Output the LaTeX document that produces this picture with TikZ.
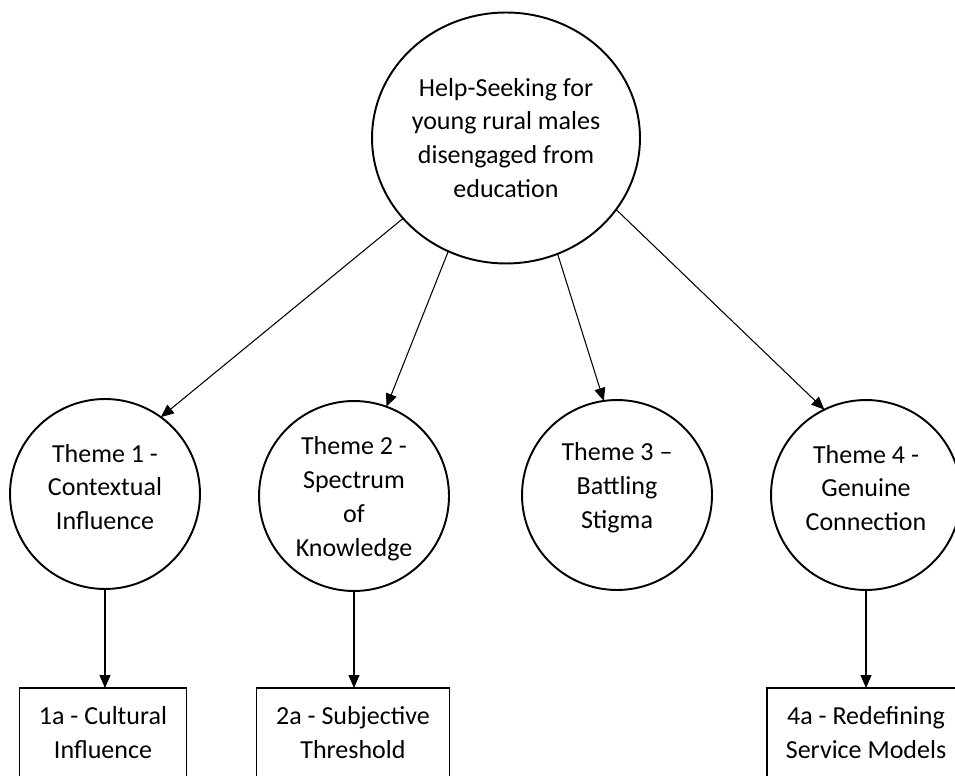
\documentclass[tikz,border=0pt]{standalone}
\usepackage{fontspec}
\setmainfont{Carlito}
\usepackage{tikz}
\usetikzlibrary{shapes.geometric,arrows.meta}

\begin{document}
\begin{tikzpicture}[x=0.02cm, y=-0.02cm,
  every node/.style={align=center, font=\fontsize{14.8}{19.3}\selectfont, outer sep=0pt},
  topic/.style={ellipse, draw, line width=1.1pt, minimum width=5.36cm, minimum height=5.02cm, inner sep=0pt},
  theme/.style={circle, draw, line width=1.1pt, minimum size=3.8cm, inner sep=0pt},
  lift/.style={yshift=0.14cm},
  drop/.style={yshift=-0.06cm},
  sub/.style={rectangle, draw, line width=1.1pt, minimum height=1.8cm},
  link/.style={-{Triangle[length=0.26cm, width=0.22cm]}, line width=0.6pt}]
\useasboundingbox (0,0) rectangle (955,776);

\node[topic] (help) at (506,138) {Help-Seeking for\\young rural males\\disengaged from\\education};

\node[theme, label={[lift]center:Theme 1 -\\Contextual\\Influence}] (theme1) at (105,494) {};
\node[theme, label={[drop]center:Theme 2 -\\Spectrum\\of\\Knowledge}] (theme2) at (354,496) {};
\node[theme, label={[lift]center:Theme 3 --\\Battling\\Stigma}] (theme3) at (617,495) {};
\node[theme, label={[lift]center:Theme 4 -\\Genuine\\Connection}] (theme4) at (866,495) {};

\node[sub, minimum width=3.34cm] (sub1a) at (103,733) {1a - Cultural\\Influence};
\node[sub, minimum width=3.86cm] (sub2a) at (353,733) {2a - Subjective\\Threshold};
\node[sub, minimum width=3.96cm] (sub4a) at (866,733) {4a - Redefining\\Service Models};

\draw[link] (help.218) -- (theme1.54);
\draw[link] (help.243) -- (theme2.70);
\draw[link] (help.294) -- (theme3.98);
\draw[link] (help.327) -- (theme4.116);

\draw[link] (theme1.south) -- (theme1.south |- sub1a.north);
\draw[link] (theme2.south) -- (theme2.south |- sub2a.north);
\draw[link] (theme4.south) -- (theme4.south |- sub4a.north);
\end{tikzpicture}
\end{document}
